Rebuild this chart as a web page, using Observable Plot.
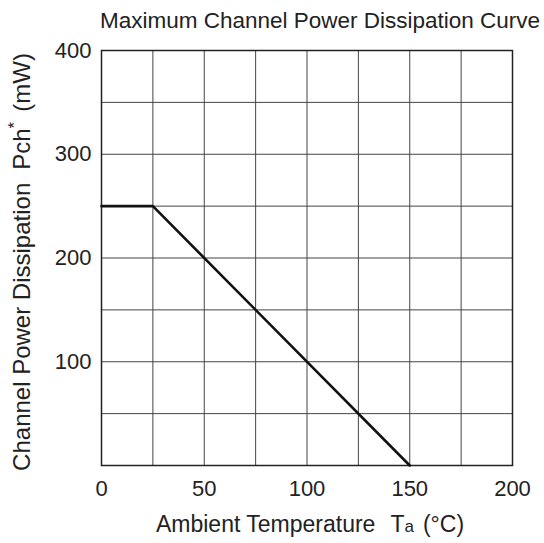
<!DOCTYPE html>
<html>
<head>
<meta charset="utf-8">
<script src="https://cdn.jsdelivr.net/npm/d3@7"></script>
<script src="https://cdn.jsdelivr.net/npm/@observablehq/plot@0.6"></script>
<style>
  html, body { margin: 0; padding: 0; background: #fff; }
  svg { font-family: "Liberation Sans", Arial, Helvetica, sans-serif; }
</style>
</head>
<body>
<div id="chart"></div>
<script>
const temps = [0, 25, 150];
const power = [250, 250, 0];
const xTicks = [0, 50, 100, 150, 200];
const yTicks = [100, 200, 300, 400];
const xGrid = [25, 50, 75, 100, 125, 150, 175];
const yGrid = [50, 100, 150, 200, 250, 300, 350];
const titleText = "Maximum Channel Power Dissipation Curve";
const xLabel = "Ambient Temperature  Ta (°C)";
const yLabel = "Channel Power Dissipation  Pch* (mW)";

const curve = temps.map((t, i) => ({t, p: power[i]}));

const fs = 22;
const plot = Plot.plot({
  width: 544,
  height: 543,
  marginLeft: 101,
  marginRight: 32,
  marginTop: 50,
  marginBottom: 78,
  style: {fontFamily: '"Liberation Sans", Arial, sans-serif', fontSize: fs + "px", color: "#222", background: "#fff"},
  x: {domain: [0, 200], label: null},
  y: {domain: [0, 400], label: null},
  marks: [
    Plot.gridX(xGrid, {stroke: "#444", strokeOpacity: 1, strokeWidth: 1}),
    Plot.gridY(yGrid, {stroke: "#444", strokeOpacity: 1, strokeWidth: 1}),
    Plot.frame({stroke: "#222", strokeWidth: 1.5}),
    Plot.line(curve, {x: "t", y: "p", stroke: "#111", strokeWidth: 2.6}),
    Plot.axisX(xTicks, {tickSize: 0, tickPadding: 15, fontSize: fs, fill: "#222"}),
    Plot.axisY(yTicks, {tickSize: 0, tickPadding: 10, fontSize: fs, fill: "#222"}),
    Plot.text([titleText], {frameAnchor: "top", dx: 13, dy: -38, fontSize: 22.5, fill: "#222", className: "ttl"}),
    Plot.text([xLabel], {frameAnchor: "bottom", dx: 3, dy: 66, fontSize: 23, fill: "#222", className: "xlab"}),
    Plot.text([yLabel], {frameAnchor: "left", textAnchor: "middle", dx: -79, dy: 4, rotate: -90, fontSize: 24, fill: "#222", className: "ylab"})
  ]
});
document.getElementById("chart").appendChild(plot);

// rich text: small "a" after T and superscript asterisk after Pch
const svg = d3.select(plot);
svg.select("g.xlab text").each(function() {
  const t = d3.select(this);
  t.text(null);
  t.append("tspan").text("Ambient Temperature");
  t.append("tspan").attr("dx", 15).text("T");
  t.append("tspan").attr("font-size", 17).text("a");
  t.append("tspan").attr("dx", 9).text("(°C)");
});
svg.select("g.ylab text").each(function() {
  const t = d3.select(this);
  t.text(null);
  t.append("tspan").text("Channel Power Dissipation");
  t.append("tspan").attr("dx", 13).text("Pch");
  t.append("tspan").attr("dy", -10).attr("font-size", 17).text("*");
  t.append("tspan").attr("dy", 10).attr("dx", 10).text("(mW)");
});
</script>
</body>
</html>
